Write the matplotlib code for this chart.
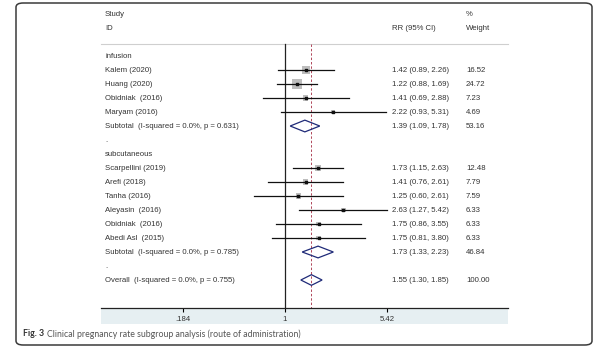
import numpy as np
import matplotlib.pyplot as plt
from matplotlib.patches import Polygon, Rectangle, FancyBboxPatch

# study level estimates, route of administration subgroups
infusion_names = ["Kalem (2020)", "Huang (2020)", "Obidniak  (2016)", "Maryam (2016)"]
infusion_rr = [1.42, 1.22, 1.41, 2.22]
infusion_lo = [0.89, 0.88, 0.69, 0.93]
infusion_hi = [2.26, 1.69, 2.88, 5.31]
infusion_w = [16.52, 24.72, 7.23, 4.69]

subcut_names = ["Scarpellini (2019)", "Arefi (2018)", "Tanha (2016)", "Aleyasin  (2016)",
                "Obidniak  (2016)", "Abedi Asl  (2015)"]
subcut_rr = [1.73, 1.41, 1.25, 2.63, 1.75, 1.75]
subcut_lo = [1.15, 0.76, 0.60, 1.27, 0.86, 0.81]
subcut_hi = [2.63, 2.61, 2.61, 5.42, 3.55, 3.80]
subcut_w = [12.48, 7.79, 7.59, 6.33, 6.33, 6.33]

# pooled estimates: infusion, subcutaneous, overall
pooled_labels = ["Subtotal  (I-squared = 0.0%, p = 0.631)",
                 "Subtotal  (I-squared = 0.0%, p = 0.785)",
                 "Overall  (I-squared = 0.0%, p = 0.755)"]
pooled_rr = [1.39, 1.73, 1.55]
pooled_lo = [1.09, 1.33, 1.30]
pooled_hi = [1.78, 2.23, 1.85]
pooled_w = [53.16, 46.84, 100.00]

xticks = [0.184, 1, 5.42]
xticklabels = [".184", "1", "5.42"]

plt.rcParams["font.family"] = ["Liberation Sans", "DejaVu Sans"]
TXT = "#333333"
NAVY = "#1f2a78"
FS = 5.6

W, H = 600, 348
fig = plt.figure(figsize=(W / 100, H / 100), dpi=100)


def px(x0, y0, x1, y1):
    # pixel box (top-left origin) -> figure fraction rect
    return [x0 / W, 1 - y1 / H, (x1 - x0) / W, (y1 - y0) / H]


ax = fig.add_axes(px(101, 8, 508, 308))
ax.set_xscale("log")
# 60.3 px per ln unit, null line at pixel 285
ax.set_xlim(np.exp((101 - 285) / 60.29), np.exp((508 - 285) / 60.29))
ax.set_ylim(21, -0.43)
ax.patch.set_alpha(0)
for s in ["top", "left", "right"]:
    ax.spines[s].set_visible(False)
ax.spines["bottom"].set_linewidth(0.9)
ax.spines["bottom"].set_color("#222222")
ax.set_yticks([])
ax.set_xticks(xticks)
ax.set_xticklabels(xticklabels)
ax.xaxis.set_minor_locator(plt.NullLocator())
ax.tick_params(axis="x", length=3, width=0.8, pad=2.8, labelsize=FS, labelcolor=TXT)

# light band behind the axis labels
ax.add_patch(Rectangle((0, -16 / 300), 1, 16 / 300, transform=ax.transAxes,
                       facecolor="#e6eff2", edgecolor="none", clip_on=False, zorder=0))

tr = ax.get_yaxis_transform()
ax.plot([0, 1], [2.14, 2.14], transform=tr, color="#cfcfcf", lw=0.8, clip_on=False)
ax.plot([1, 1], [2.14, 21], color="#222222", lw=0.9)
ax.plot([pooled_rr[2]] * 2, [2.14, 21], color="#b0475a", lw=0.7, ls=(0, (2.5, 2)))

x_lab, x_rr, x_w = 4 / 407, 291 / 407, 365 / 407
ax.text(x_lab, 0, "Study", transform=tr, fontsize=FS, color=TXT, va="center")
ax.text(x_lab, 1, "ID", transform=tr, fontsize=FS, color=TXT, va="center")
ax.text(x_rr, 1, "RR (95% CI)", transform=tr, fontsize=FS, color=TXT, va="center")
ax.text(x_w, 0, "%", transform=tr, fontsize=FS, color=TXT, va="center")
ax.text(x_w, 1, "Weight", transform=tr, fontsize=FS, color=TXT, va="center")


def study_rows(start, names, rr, lo, hi, w):
    for i in range(len(names)):
        y = start + i
        ax.plot([lo[i], hi[i]], [y, y], color="#111111", lw=0.9, zorder=2)
        side = 1.95 * np.sqrt(w[i]) * 0.72
        ax.scatter([rr[i]], [y], marker="s", s=side ** 2, color="#bdbdbd",
                   edgecolors="none", zorder=1)
        ax.scatter([rr[i]], [y], marker="s", s=2.2, color="#111111", zorder=3)
        ax.text(x_lab, y, names[i], transform=tr, fontsize=FS, color=TXT, va="center")
        ax.text(x_rr, y, "%.2f (%.2f, %.2f)" % (rr[i], lo[i], hi[i]),
                transform=tr, fontsize=FS, color=TXT, va="center")
        ax.text(x_w, y, "%.2f" % w[i], transform=tr, fontsize=FS, color=TXT, va="center")


def diamond(y, k, hh=0.42):
    pts = [(pooled_lo[k], y), (pooled_rr[k], y - hh), (pooled_hi[k], y), (pooled_rr[k], y + hh)]
    ax.add_patch(Polygon(pts, closed=True, fill=False, edgecolor=NAVY, lw=0.9, zorder=3))
    ax.text(x_lab, y, pooled_labels[k], transform=tr, fontsize=FS, color=TXT, va="center")
    ax.text(x_rr, y, "%.2f (%.2f, %.2f)" % (pooled_rr[k], pooled_lo[k], pooled_hi[k]),
            transform=tr, fontsize=FS, color=TXT, va="center")
    ax.text(x_w, y, "%.2f" % pooled_w[k], transform=tr, fontsize=FS, color=TXT, va="center")


ax.text(x_lab, 3, "infusion", transform=tr, fontsize=FS, color=TXT, va="center")
study_rows(4, infusion_names, infusion_rr, infusion_lo, infusion_hi, infusion_w)
diamond(8, 0)
ax.text(x_lab, 9, ".", transform=tr, fontsize=FS, color=TXT, va="center")
ax.text(x_lab, 10, "subcutaneous", transform=tr, fontsize=FS, color=TXT, va="center")
study_rows(11, subcut_names, subcut_rr, subcut_lo, subcut_hi, subcut_w)
diamond(17, 1)
ax.text(x_lab, 18, ".", transform=tr, fontsize=FS, color=TXT, va="center")
diamond(19, 2, hh=0.38)

# outer frame and caption
fig.patches.append(FancyBboxPatch((16 / W, 3 / H), (592 - 16) / W, (345 - 3) / H,
                                  boxstyle="round,pad=0,rounding_size=0.012",
                                  transform=fig.transFigure, fill=False,
                                  edgecolor="#3a3a3a", lw=1.1))
cap_y = 1 - 334 / H
t1 = fig.text(23 / W, cap_y, "Fig. 3", fontsize=6.3, fontweight="bold",
              family="Lato", color="#333333", va="center")
fig.canvas.draw()
bb = t1.get_window_extent()
fig.text((bb.x1 + 3) / W, cap_y, "Clinical pregnancy rate subgroup analysis (route of administration)",
         fontsize=6.3, family="Lato", color="#555555", va="center")

fig.savefig("out.png", dpi=100)
